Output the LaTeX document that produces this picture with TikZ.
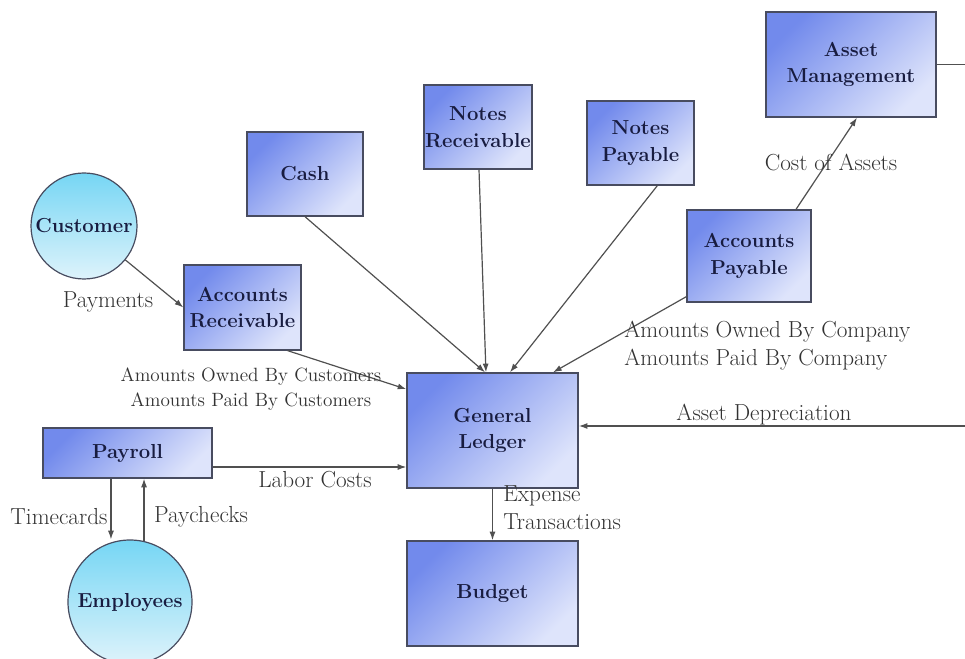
\documentclass[tikz,border=0pt]{standalone}
\usetikzlibrary{arrows.meta}

\definecolor{boxdark}{RGB}{114,138,236}
\definecolor{boxlight}{RGB}{222,228,251}
\definecolor{circtop}{RGB}{118,214,244}
\definecolor{circbot}{RGB}{222,243,251}
\definecolor{edgecol}{RGB}{72,76,96}
\definecolor{linecol}{RGB}{80,80,80}
\definecolor{titlecol}{RGB}{24,28,64}
\definecolor{labelcol}{RGB}{50,50,50}

\tikzset{
  entity/.style={draw=edgecol, line width=1pt, top color=boxdark, bottom color=boxlight,
    shading angle=45, align=center, inner sep=0pt, text=titlecol,
    font=\fontsize{15.2}{20}\selectfont\bfseries},
  party/.style={circle, draw=edgecol, line width=0.9pt, top color=circtop, bottom color=circbot,
    align=center, inner sep=0pt, text=titlecol, font=\fontsize{15.2}{20}\selectfont\bfseries},
  flow/.style={draw=linecol, line width=0.9pt, -{Latex[length=6.5pt,width=4.5pt]}},
  tag/.style={inner sep=0pt, text=labelcol, font=\fontsize{17.4}{21}\selectfont},
  smalltag/.style={inner sep=0pt, text=labelcol, font=\fontsize{14.4}{19}\selectfont, align=center},
}

\begin{document}
\begin{tikzpicture}[x=0.75pt, y=-0.75pt]
  \useasboundingbox (0,0) rectangle (965,659);

  % stores and processes
  \node[entity, minimum width=127.5pt, minimum height=78.75pt] (am)   at (851,64.5)  {Asset\\Management};
  \node[entity, minimum width=87pt,    minimum height=63pt]    (cash) at (305,174)   {Cash};
  \node[entity, minimum width=81pt,    minimum height=63pt]    (nr)   at (478,127)   {Notes\\Receivable};
  \node[entity, minimum width=80.25pt, minimum height=63pt]    (np)   at (640.5,143) {Notes\\Payable};
  \node[entity, minimum width=93pt,    minimum height=69pt]    (ap)   at (749,256)   {Accounts\\Payable};
  \node[entity, minimum width=87.75pt, minimum height=63.75pt] (ar)   at (242.5,307.5) {Accounts\\Receivable};
  \node[entity, minimum width=128.25pt,minimum height=86.25pt] (gl)   at (492.5,430.5) {General\\Ledger};
  \node[entity, minimum width=126.75pt,minimum height=37.5pt]  (pay)  at (127.5,453) {Payroll};
  \node[entity, minimum width=128.25pt,minimum height=78.75pt] (bud)  at (492.5,593.5) {Budget};

  % external parties
  \node[party, minimum size=79.5pt] (cust) at (84,226)  {Customer};
  \node[party, minimum size=93pt]   (emp)  at (130,602) {Employees};

  % flows
  \draw[flow] (cust) -- (ar.west);
  \draw[flow] ([xshift=-10.5pt]ar.south east) -- ([yshift=31pt]gl.west);
  \draw[flow] (cash.south) -- ([xshift=-5.6pt]gl.north);
  \draw[flow] ([xshift=0.75pt]nr.south) -- ([xshift=-4.9pt]gl.north);
  \draw[flow] ([xshift=-28pt]np.south east) -- ([xshift=13.1pt]gl.north);
  \draw[flow] ([yshift=4.5pt]ap.south west) -- ([xshift=45.4pt]gl.north);
  \draw[flow] ([xshift=35.25pt]ap.north) -- ([xshift=4.5pt]am.south);

  \coordinate (turnA) at (1010,64.5);
  \coordinate (turnB) at (1010,426);
  \draw[flow, line width=1.1pt] (am.east) -- (turnA) -- (turnB) -- (turnB -| gl.east);

  \draw[flow] ([yshift=-10.5pt]pay.east) -- ([yshift=-10.5pt]pay.east -| gl.west);
  \coordinate (tc) at ([xshift=-12.4pt]pay.south);
  \draw[flow] (tc) -- (tc |- emp.north);
  \coordinate (pc) at ([xshift=12.4pt]pay.south);
  \draw[flow] ([yshift=-1.5pt]pc |- emp.north) -- (pc);
  \draw[flow] (gl.south) -- (bud.north);

  % flow labels
  \node[tag] (lpay)  at (108,302) {Payments};
  \node[smalltag] (lcust) at (251,389) {Amounts Owned By Customers\\Amounts Paid By Customers};
  \node[tag, anchor=west] (llab) at (258,480) {Labor Costs};
  \node[tag] (ltc)   at (59,517)  {Timecards};
  \node[tag] (lpc)   at (201,517) {Paychecks};
  \node[tag, anchor=west, align=left] (lexp) at (503,508) {Expense\\Transactions};
  \node[tag] (lcost) at (831,162) {Cost of Assets};
  \node[tag, anchor=west, align=left] (lcomp) at (624,346) {Amounts Owned By Company\\Amounts Paid By Company};
  \node[tag] (ldep)  at (764,415) {Asset Depreciation};
\end{tikzpicture}
\end{document}
